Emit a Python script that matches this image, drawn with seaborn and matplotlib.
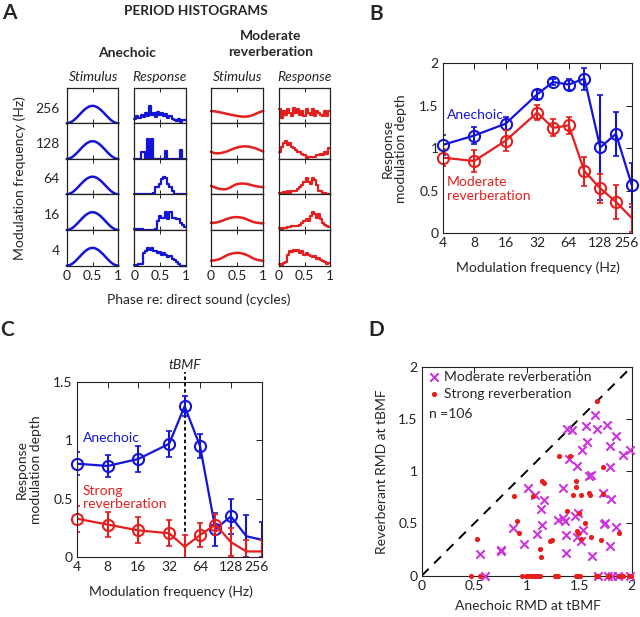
import matplotlib
matplotlib.use("Agg")
import matplotlib.pyplot as plt
import matplotlib.transforms as mtransforms
import numpy as np
import seaborn as sns

# ---------------- data ----------------
# Panel A: period histograms (fraction of panel height), rows top -> bottom
row_labels = ["256", "128", "64", "16", "4"]

stim_anechoic = [0.0, 0.012, 0.048, 0.103, 0.173, 0.25, 0.327, 0.397, 0.452, 0.488, 0.5,
                 0.488, 0.452, 0.397, 0.327, 0.25, 0.173, 0.103, 0.048, 0.012, 0.0]

stim_rev_256 = [0.35, 0.345, 0.335, 0.32, 0.305, 0.29, 0.27, 0.255, 0.24, 0.225, 0.21,
                0.2, 0.19, 0.19, 0.195, 0.21, 0.235, 0.265, 0.3, 0.33, 0.35]
stim_rev_128 = [0.2, 0.17, 0.16, 0.16, 0.17, 0.19, 0.21, 0.24, 0.27, 0.3, 0.32,
                0.34, 0.35, 0.355, 0.35, 0.34, 0.32, 0.3, 0.27, 0.24, 0.21]
stim_rev_64 = [0.24, 0.21, 0.18, 0.16, 0.145, 0.14, 0.15, 0.18, 0.22, 0.26, 0.29,
               0.3, 0.305, 0.3, 0.29, 0.27, 0.25, 0.23, 0.22, 0.21, 0.2]
stim_rev_16 = [0.2, 0.2, 0.21, 0.23, 0.25, 0.28, 0.31, 0.33, 0.35, 0.36, 0.36,
               0.355, 0.34, 0.32, 0.29, 0.26, 0.23, 0.21, 0.2, 0.19, 0.19]
stim_rev_4 = [0.14, 0.145, 0.16, 0.18, 0.21, 0.25, 0.29, 0.32, 0.34, 0.355, 0.36,
              0.355, 0.34, 0.32, 0.29, 0.25, 0.21, 0.18, 0.16, 0.145, 0.14]

resp_an_256 = [0.12, 0.2, 0.15, 0.25, 0.18, 0.3, 0.22, 0.5, 0.25, 0.3, 0.18, 0.32, 0.25,
               0.3, 0.2, 0.28, 0.15, 0.2, 0.12, 0.1, 0.08, 0.12, 0.05, 0.1, 0.1]
resp_an_128 = [0, 0, 0, 0.2, 0.2, 0, 0.55, 0, 0.55, 0, 0, 0, 0,
               0, 0, 0.22, 0, 0, 0, 0, 0, 0, 0.25, 0, 0]
resp_an_64 = [0, 0, 0, 0, 0, 0, 0, 0, 0, 0.05, 0.2, 0.2, 0.3,
              0.42, 0.5, 0.45, 0.3, 0.22, 0.08, 0, 0, 0, 0, 0, 0]
resp_an_16 = [0.03, 0.03, 0.02, 0.02, 0, 0, 0, 0, 0, 0, 0.02, 0.25, 0.4,
              0.35, 0.35, 0.5, 0.3, 0.5, 0.35, 0.35, 0.3, 0.3, 0.2, 0.15, 0.08]
resp_an_4 = [0.03, 0.03, 0.05, 0.05, 0.35, 0.4, 0.5, 0.45, 0.5, 0.4, 0.4, 0.35, 0.38,
             0.3, 0.35, 0.3, 0.25, 0.28, 0.2, 0.15, 0.1, 0.05, 0, 0, 0]

resp_rev_256 = [0.4, 0.15, 0.35, 0.25, 0.4, 0.3, 0.2, 0.45, 0.3, 0.4, 0.25, 0.35, 0.2,
                0.4, 0.3, 0.25, 0.4, 0.2, 0.35, 0.3, 0.25, 0.2, 0.35, 0.2, 0.35]
resp_rev_128 = [0.2, 0.35, 0.45, 0.5, 0.4, 0.45, 0.35, 0.3, 0.25, 0.2, 0.2, 0.15, 0.1,
                0.03, 0.05, 0.05, 0.05, 0.05, 0.1, 0.1, 0.15, 0.1, 0.2, 0.15, 0.3]
resp_rev_64 = [0.05, 0.03, 0.07, 0.05, 0.08, 0.05, 0.1, 0.08, 0.1, 0.15, 0.2, 0.25, 0.35,
               0.45, 0.35, 0.3, 0.45, 0.4, 0.25, 0.1, 0.08, 0.05, 0.03, 0.02, 0.02]
resp_rev_16 = [0.05, 0.03, 0.05, 0.05, 0.08, 0.08, 0.1, 0.1, 0.12, 0.12, 0.15, 0.2, 0.25,
               0.3, 0.25, 0.4, 0.5, 0.45, 0.35, 0.45, 0.3, 0.2, 0.15, 0.1, 0.08]
resp_rev_4 = [0.05, 0.03, 0.08, 0.1, 0.3, 0.4, 0.38, 0.45, 0.4, 0.45, 0.35, 0.4, 0.3,
              0.35, 0.3, 0.28, 0.25, 0.28, 0.2, 0.22, 0.15, 0.12, 0.1, 0.05, 0.08]

# Panels B and C: modulation transfer functions
freqs = [4, 8, 16, 32, 45.25, 64, 90.5, 128, 181, 256]
freq_ticks = [4, 8, 16, 32, 64, 128, 256]

b_anech = [1.04, 1.15, 1.29, 1.635, 1.78, 1.75, 1.82, 1.01, 1.17, 0.57]
b_anech_err = [0.12, 0.10, 0.08, 0.05, 0.035, 0.065, 0.13, 0.62, 0.26, 0.26]
b_anech_mark = [1, 1, 1, 1, 1, 1, 1, 1, 1, 1]
b_mod = [0.89, 0.85, 1.09, 1.42, 1.24, 1.27, 0.73, 0.53, 0.37, 0.18]
b_mod_err = [0.10, 0.13, 0.12, 0.09, 0.10, 0.10, 0.17, 0.17, 0.20, 0.16]
b_mod_mark = [1, 1, 1, 1, 1, 1, 1, 1, 1, 0]

c_anech = [0.80, 0.78, 0.84, 0.97, 1.29, 0.95, 0.24, 0.35, 0.18, 0.15]
c_anech_err = [0.10, 0.09, 0.11, 0.11, 0.085, 0.10, 0.14, 0.15, 0.18, 0.15]
c_anech_mark = [1, 1, 1, 1, 1, 1, 1, 1, 0, 0]
c_strong = [0.33, 0.28, 0.23, 0.205, 0.09, 0.19, 0.28, 0.13, 0.05, 0.05]
c_strong_err = [0.11, 0.11, 0.11, 0.11, 0.10, 0.10, 0.09, 0.12, 0.10, 0.10]
c_strong_mark = [1, 1, 1, 1, 0, 1, 1, 0, 0, 0]
tbmf = 45.25

# Panel D: RMD at tBMF, anechoic vs reverberant
mod_x = [1.65, 1.38, 1.43, 1.56, 1.67, 1.76, 1.85, 1.57, 1.79, 1.53, 1.92, 1.98, 1.40,
         1.48, 1.79, 1.59, 1.61, 1.01, 1.35, 1.08, 1.16, 1.14, 1.73, 1.80, 1.30, 1.35,
         1.36, 1.46, 1.49, 1.15, 1.75, 1.74, 1.85, 1.54, 1.10, 1.37, 1.48, 1.52, 0.97,
         1.79, 1.37, 1.62, 0.87, 0.555, 0.755, 0.755, 0.60, 1.68, 1.77, 1.81, 1.87, 1.98]
mod_y = [1.54, 1.40, 1.39, 1.43, 1.40, 1.44, 1.34, 1.28, 1.24, 1.20, 1.155, 1.20, 1.12,
         1.05, 1.04, 0.95, 0.96, 0.84, 0.84, 0.77, 0.72, 0.64, 0.79, 0.73, 0.53, 0.55,
         0.52, 0.57, 0.60, 0.485, 0.50, 0.49, 0.47, 0.44, 0.40, 0.39, 0.37, 0.33, 0.30,
         0.28, 0.22, 0.19, 0.46, 0.205, 0.25, 0.24, 0.0, 0.0, 0.0, 0.0, 0.0, 0.0]
strong_x = [1.67, 1.31, 1.41, 1.15, 1.16, 1.47, 1.47, 1.73, 1.06, 1.44, 1.52, 1.59, 1.60,
            1.73, 1.38, 1.50, 1.555, 1.48, 1.49, 1.52, 1.24, 1.22, 1.13, 1.14, 1.61, 1.71,
            1.88, 0.88, 0.905, 0.93, 0.53,
            0.47, 0.555, 0.955, 0.99, 1.01, 1.04, 1.06, 1.08, 1.10, 1.12, 1.13, 1.27, 1.28,
            1.30, 1.47, 1.49, 1.51, 1.66, 1.68, 1.77, 1.78, 1.88, 1.92, 1.97, 1.99]
strong_y = [1.67, 1.145, 1.15, 0.91, 0.89, 0.91, 0.85, 1.04, 0.76, 0.77, 0.77, 0.79, 0.77,
            0.78, 0.62, 0.60, 0.50, 0.43, 0.41, 0.35, 0.34, 0.33, 0.26, 0.18, 0.37, 0.34,
            0.41, 0.76, 0.52, 0.41, 0.35,
            0, 0, 0, 0, 0, 0, 0, 0, 0, 0, 0, 0, 0,
            0, 0, 0, 0, 0, 0, 0, 0, 0, 0, 0, 0]

# ---------------- style ----------------
sns.set_theme(style="white")
plt.rcParams["font.family"] = ["Lato", "DejaVu Sans"]
plt.rcParams.update({
    "font.size": 10,
    "axes.linewidth": 0.8,
    "axes.edgecolor": "#222222",
    "xtick.direction": "in",
    "ytick.direction": "in",
    "xtick.color": "#222222",
    "ytick.color": "#222222",
    "xtick.labelsize": 10,
    "ytick.labelsize": 10,
})

BLUE = "#1414d8"
RED = "#e61e1e"
MAGENTA = "#cc33dd"
W, H = 640, 617


def box(left, top, right, bottom):
    return [left / W, 1 - bottom / H, (right - left) / W, (bottom - top) / H]


def ftext(x, y, s, **kw):
    fig.text(x / W, 1 - y / H, s, **kw)


fig = plt.figure(figsize=(W / 100, H / 100), dpi=100)

# ---------------- panel A ----------------
col_px = [(66.7, 118.3), (134.3, 186.0), (211.0, 263.3), (279.0, 330.0)]
row_px = [88.3, 123.3, 159.0, 194.3, 230.0, 265.7]
columns = [
    ([stim_anechoic] * 5, BLUE, False),
    ([resp_an_256, resp_an_128, resp_an_64, resp_an_16, resp_an_4], BLUE, True),
    ([stim_rev_256, stim_rev_128, stim_rev_64, stim_rev_16, stim_rev_4], RED, False),
    ([resp_rev_256, resp_rev_128, resp_rev_64, resp_rev_16, resp_rev_4], RED, True),
]
for c, (series, color, is_hist) in enumerate(columns):
    for r, vals in enumerate(series):
        ax = fig.add_axes(box(col_px[c][0], row_px[r], col_px[c][1], row_px[r + 1]))
        if is_hist:
            xs = np.linspace(0, 1, len(vals) + 1)
            ys = list(vals) + [vals[-1]]
            sns.lineplot(x=xs, y=ys, ax=ax, color=color, lw=1.6, drawstyle="steps-post",
                         estimator=None, sort=False, clip_on=False)
        else:
            xs = np.linspace(0, 1, len(vals))
            sns.lineplot(x=xs, y=vals, ax=ax, color=color, lw=1.8,
                         estimator=None, sort=False, clip_on=False)
        ax.set(xlim=(0, 1), ylim=(0, 1), yticks=[], xlabel="", ylabel="")
        ax.set_xticks([0, 0.5, 1])
        ax.set_xticklabels(["0", "0.5", "1"])
        ax.tick_params(axis="x", top=True, bottom=True, length=3, width=0.7,
                       labelbottom=(r == 4), pad=3)
        for sp in ax.spines.values():
            sp.set_linewidth(0.9)
        if c == 0:
            ax.text(-0.13, 0.42, row_labels[r], transform=ax.transAxes,
                    ha="right", va="center", fontsize=10)

ftext(9, 13, "A", fontsize=15, fontweight="bold", ha="center", va="center")
ftext(196, 11, "PERIOD HISTOGRAMS", fontsize=9.8, fontweight="bold", ha="center", va="center")
ftext(126.7, 53.3, "Anechoic", fontsize=10, fontweight="bold", ha="center", va="center")
ftext(270.5, 44, "Moderate\nreverberation", fontsize=10, fontweight="bold",
      ha="center", va="center", linespacing=1.35)
for cx in (93.3, 237.5):
    ftext(cx, 77.3, "Stimulus", fontsize=10, style="italic", ha="center", va="center")
for cx in (159.5, 304):
    ftext(cx, 77.3, "Response", fontsize=10, style="italic", ha="center", va="center")
ftext(20, 178, "Modulation frequency (Hz)", fontsize=10, rotation=90,
      ha="center", va="center")
ftext(199, 300, "Phase re: direct sound (cycles)", fontsize=10, ha="center", va="center")


# ---------------- panels B & C ----------------
def mtf_panel(ax, series, ylim, yticks):
    for vals, errs, marks, color in series:
        ax.errorbar(freqs, vals, yerr=errs, fmt="none", ecolor=color,
                    elinewidth=1.5, capsize=2, capthick=1.2)
        sns.lineplot(x=freqs, y=vals, ax=ax, color=color, lw=1.6,
                     estimator=None, sort=False)
        mx = [f for f, m in zip(freqs, marks) if m]
        my = [v for v, m in zip(vals, marks) if m]
        sns.lineplot(x=mx, y=my, ax=ax, linestyle="", marker="o", markersize=8,
                     markerfacecolor="none", markeredgecolor=color, markeredgewidth=1.5,
                     estimator=None, sort=False, clip_on=False)
    ax.set_xscale("log", base=2)
    ax.set_xlim(4, 256)
    ax.set_xticks(freq_ticks)
    ax.set_xticklabels([str(f) for f in freq_ticks])
    ax.xaxis.set_minor_locator(matplotlib.ticker.NullLocator())
    ax.set_ylim(*ylim)
    ax.set_yticks(yticks)
    ax.set_yticklabels([f"{t:g}" for t in yticks])
    ax.tick_params(top=True, right=True, length=4, width=0.7, pad=3)
    ax.set_xlabel("Modulation frequency (Hz)", fontsize=10)
    ax.set_ylabel("Response\nmodulation depth", fontsize=10, linespacing=1.15)
    # last tick label nudged left so it stays inside the figure
    last = ax.get_xticklabels()[-1]
    last.set_transform(last.get_transform()
                       + mtransforms.ScaledTranslation(-5 / 100, 0, fig.dpi_scale_trans))


axB = fig.add_axes(box(442.7, 63.3, 631.7, 233.3))
mtf_panel(axB, [(b_anech, b_anech_err, b_anech_mark, BLUE),
                (b_mod, b_mod_err, b_mod_mark, RED)], (0, 2), [0, 0.5, 1, 1.5, 2])
axB.xaxis.set_label_coords(0.504, -0.167)
axB.yaxis.set_label_coords(-0.19, 0.5)
axB.text(4.37, 1.39, "Anechoic", color=BLUE, fontsize=10, va="center")
axB.text(4.37, 0.52, "Moderate\nreverberation", color=RED, fontsize=10, va="center",
         linespacing=1.15)
ftext(376, 14, "B", fontsize=15, fontweight="bold", ha="center", va="center")

axC = fig.add_axes(box(76.7, 381.7, 261.7, 557.3))
mtf_panel(axC, [(c_anech, c_anech_err, c_anech_mark, BLUE),
                (c_strong, c_strong_err, c_strong_mark, RED)], (0, 1.5), [0, 0.5, 1, 1.5])
axC.xaxis.set_label_coords(0.509, -0.158)
axC.yaxis.set_label_coords(-0.189, 0.5)
axC.plot([tbmf, tbmf], [0, 1.58], color="black", lw=1.3, linestyle=(0, (2, 1.5)),
         clip_on=False, zorder=1)
axC.text(tbmf, 1.64, "tBMF", style="italic", fontsize=10, ha="center", va="center")
axC.text(4.57, 1.02, "Anechoic", color=BLUE, fontsize=10, va="center")
axC.text(4.57, 0.51, "Strong\nreverberation", color=RED, fontsize=10, va="center",
         linespacing=1.15)
ftext(7, 330, "C", fontsize=15, fontweight="bold", ha="center", va="center")

# ---------------- panel D ----------------
axD = fig.add_axes(box(421.7, 366.7, 631.7, 575.7))
axD.axline((0, 0), slope=1, color="black", lw=1.4, linestyle=(0, (5, 4)), zorder=1)
sns.scatterplot(x=mod_x, y=mod_y, ax=axD, marker="x", color=MAGENTA, s=36,
                linewidth=1.5, label="Moderate reverberation", clip_on=False, zorder=3)
sns.scatterplot(x=strong_x, y=strong_y, ax=axD, marker="o", color=RED, s=14,
                linewidth=0, label="Strong reverberation", clip_on=False, zorder=3)
axD.set(xlim=(0, 2), ylim=(0, 2))
axD.set_xticks([0, 0.5, 1, 1.5, 2])
axD.set_xticklabels(["0", "0.5", "1", "1.5", "2"])
axD.set_yticks([0, 0.5, 1, 1.5, 2])
axD.set_yticklabels(["0", "0.5", "1", "1.5", "2"])
axD.tick_params(top=True, right=True, length=4, width=0.7, pad=3)
axD.set_xlabel("Anechoic RMD at tBMF", fontsize=10)
axD.set_ylabel("Reverberant RMD at tBMF", fontsize=10)
axD.xaxis.set_label_coords(0.504, -0.116)
axD.yaxis.set_label_coords(-0.159, 0.5)
axD.legend(loc="upper left", frameon=False, fontsize=10, handletextpad=0.1,
           borderaxespad=0.1, labelspacing=0.35, handlelength=1.2, borderpad=0.2)
axD.text(0.036, 0.772, "n =106", transform=axD.transAxes, fontsize=10, va="center")
ftext(376, 330, "D", fontsize=15, fontweight="bold", ha="center", va="center")

fig.savefig("out.png", dpi=100)
